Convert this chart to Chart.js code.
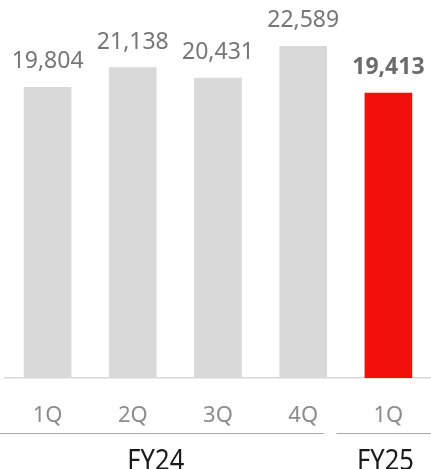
<!DOCTYPE html>
<html>
<head>
<meta charset="utf-8">
<script src="https://cdn.jsdelivr.net/npm/chart.js@4.4.1/dist/chart.umd.min.js"></script>
<style>
  html, body { margin: 0; padding: 0; background: #fff; overflow: hidden; }
  #wrap { width: 431px; height: 469px; }
</style>
</head>
<body>
<div id="wrap"><canvas id="salesChart"></canvas></div>
<script>
// quarters and the fiscal year they belong to
const quarters = ['1Q', '2Q', '3Q', '4Q', '1Q'];
const salesValues = [19804, 21138, 20431, 22589, 19413];
const barColors = ['#d9d9d9', '#d9d9d9', '#d9d9d9', '#d9d9d9', '#f0110a'];
const fiscalYears = ['FY24', 'FY25'];

const FONT = '"Noto Sans", sans-serif';

// value text above each bar, latest quarter in bold
const valueLabels = {
    id: 'valueLabels',
    afterDatasetsDraw(chart) {
        const ctx = chart.ctx;
        const meta = chart.getDatasetMeta(0);
        ctx.save();
        ctx.textAlign = 'center';
        ctx.textBaseline = 'alphabetic';
        meta.data.forEach((bar, i) => {
            const last = i === salesValues.length - 1;
            ctx.font = (last ? 'bold ' : '') + '23px ' + FONT;
            ctx.fillStyle = last ? '#6b6b6b' : '#767676';
            ctx.fillText(salesValues[i].toLocaleString('en-US'), bar.x, bar.y - 19);
        });
        ctx.restore();
    }
};

// fiscal year brackets under the quarter ticks
const yearGroups = {
    id: 'yearGroups',
    afterDraw(chart) {
        const ctx = chart.ctx;
        const x = chart.scales.x;
        const step = x.getPixelForValue(1) - x.getPixelForValue(0);
        const lineY = 433.5;
        ctx.save();
        ctx.strokeStyle = '#a6a6a6';
        ctx.lineWidth = 1.2;
        ctx.beginPath();
        ctx.moveTo(0, lineY);
        ctx.lineTo(x.getPixelForValue(3) + step * 0.24, lineY);
        ctx.moveTo(x.getPixelForValue(3) + step * 0.39, lineY);
        ctx.lineTo(chart.width, lineY);
        ctx.stroke();

        // year names are a bit tall and narrow, so squeeze them sideways
        const centers = [x.getPixelForValue(1) + step * 0.27, x.getPixelForValue(4) - 3];
        ctx.font = '29px ' + FONT;
        ctx.fillStyle = '#1a1a1a';
        ctx.textAlign = 'center';
        ctx.textBaseline = 'alphabetic';
        fiscalYears.forEach((name, i) => {
            ctx.save();
            ctx.translate(centers[i], 470);
            ctx.scale(0.88, 1);
            ctx.fillText(name, 0, 0);
            ctx.restore();
        });
        ctx.restore();
    }
};

new Chart(document.getElementById('salesChart'), {
    type: 'bar',
    data: {
        labels: quarters,
        datasets: [{
            data: salesValues,
            backgroundColor: barColors,
            borderWidth: 0,
            barThickness: 47,
            categoryPercentage: 1
        }]
    },
    options: {
        responsive: true,
        maintainAspectRatio: false,
        animation: false,
        layout: { padding: { top: 11, left: 5, right: 0, bottom: 0 } },
        plugins: {
            legend: { display: false },
            tooltip: { enabled: false }
        },
        scales: {
            x: {
                grid: { display: false, drawTicks: false },
                border: { display: true, color: '#d9d9d9', width: 1.5 },
                ticks: {
                    color: '#8c8c8c',
                    font: { family: FONT, size: 22 },
                    padding: 25
                },
                afterFit(scale) { scale.height = 91; }
            },
            y: {
                display: false,
                min: 0,
                max: 25000
            }
        }
    },
    plugins: [valueLabels, yearGroups]
});
</script>
</body>
</html>
